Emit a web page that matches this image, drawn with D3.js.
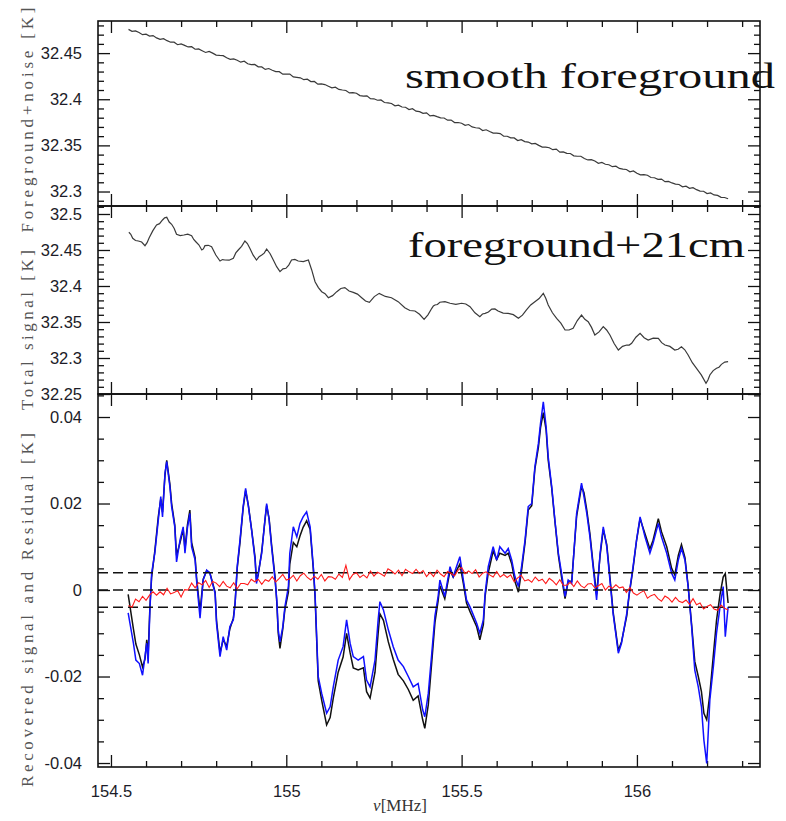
<!DOCTYPE html>
<html><head><meta charset="utf-8">
<script src="https://cdn.jsdelivr.net/npm/d3@7"></script>
<style>body{margin:0;background:#fff} svg{display:block}</style>
</head><body><svg id="c" width="786" height="821"></svg>
<script>
// ---------------- DATA ----------------
// frequency channels (MHz) shared by the foreground and residual series
const channelFreq = [154.55,154.56,154.57,154.58,154.59,154.60,154.61,154.62,154.63,154.64,154.65,154.66,154.67,154.68,154.69,154.70,154.71,154.72,154.73,154.74,154.75,154.76,154.77,154.78,154.79,154.80,154.81,154.82,154.83,154.84,154.85,154.86,154.87,154.88,154.89,154.90,154.91,154.92,154.93,154.94,154.95,154.96,154.97,154.98,154.99,155.00,155.01,155.02,155.03,155.04,155.05,155.06,155.07,155.08,155.09,155.10,155.11,155.12,155.13,155.14,155.15,155.16,155.17,155.18,155.19,155.20,155.21,155.22,155.23,155.24,155.25,155.26,155.27,155.28,155.29,155.30,155.31,155.32,155.33,155.34,155.35,155.36,155.37,155.38,155.39,155.40,155.41,155.42,155.43,155.44,155.45,155.46,155.47,155.48,155.49,155.50,155.51,155.52,155.53,155.54,155.55,155.56,155.57,155.58,155.59,155.60,155.61,155.62,155.63,155.64,155.65,155.66,155.67,155.68,155.69,155.70,155.71,155.72,155.73,155.74,155.75,155.76,155.77,155.78,155.79,155.80,155.81,155.82,155.83,155.84,155.85,155.86,155.87,155.88,155.89,155.90,155.91,155.92,155.93,155.94,155.95,155.96,155.97,155.98,155.99,156.00,156.01,156.02,156.03,156.04,156.05,156.06,156.07,156.08,156.09,156.10,156.11,156.12,156.13,156.14,156.15,156.16,156.17,156.18,156.19,156.20,156.21,156.22,156.23,156.24,156.25,156.26];

// panel 1: smooth foreground + noise (K)
const fgNoise = [32.4757,32.4736,32.4740,32.4723,32.4700,32.4705,32.4685,32.4690,32.4665,32.4649,32.4656,32.4635,32.4618,32.4618,32.4591,32.4600,32.4584,32.4567,32.4570,32.4542,32.4545,32.4526,32.4507,32.4519,32.4500,32.4479,32.4475,32.4472,32.4449,32.4432,32.4438,32.4423,32.4402,32.4412,32.4385,32.4376,32.4377,32.4351,32.4350,32.4323,32.4333,32.4314,32.4299,32.4299,32.4272,32.4273,32.4272,32.4242,32.4237,32.4232,32.4212,32.4217,32.4192,32.4193,32.4163,32.4166,32.4159,32.4141,32.4124,32.4131,32.4106,32.4100,32.4095,32.4068,32.4072,32.4065,32.4040,32.4034,32.4037,32.4006,32.4005,32.3989,32.3992,32.3965,32.3961,32.3954,32.3929,32.3936,32.3916,32.3913,32.3888,32.3898,32.3871,32.3866,32.3847,32.3853,32.3820,32.3825,32.3811,32.3798,32.3797,32.3773,32.3774,32.3747,32.3748,32.3740,32.3717,32.3726,32.3700,32.3691,32.3688,32.3661,32.3669,32.3650,32.3633,32.3633,32.3628,32.3599,32.3599,32.3582,32.3581,32.3552,32.3562,32.3541,32.3536,32.3516,32.3521,32.3500,32.3482,32.3481,32.3474,32.3453,32.3459,32.3426,32.3429,32.3413,32.3412,32.3387,32.3382,32.3382,32.3357,32.3342,32.3346,32.3331,32.3306,32.3315,32.3295,32.3290,32.3269,32.3275,32.3250,32.3243,32.3239,32.3214,32.3223,32.3198,32.3180,32.3183,32.3176,32.3152,32.3149,32.3132,32.3135,32.3107,32.3110,32.3093,32.3081,32.3076,32.3051,32.3058,32.3034,32.3041,32.3020,32.3004,32.3003,32.2978,32.2985,32.2963,32.2958,32.2937,32.2935,32.2922];

// residual (K)
const resResidual = [-0.0036,-0.0040,-0.0021,-0.0027,-0.0015,-0.0024,-0.0012,-0.0004,-0.0012,-0.0004,-0.0011,0.0004,-0.0009,-0.0006,-0.0001,-0.0016,0.0001,0.0000,0.0016,0.0005,0.0017,0.0012,0.0022,0.0006,0.0020,0.0016,0.0008,0.0020,0.0009,0.0005,0.0017,0.0003,0.0015,0.0015,0.0012,0.0025,0.0019,0.0025,0.0013,0.0024,0.0020,0.0031,0.0019,0.0027,0.0036,0.0023,0.0026,0.0034,0.0021,0.0033,0.0039,0.0029,0.0023,0.0032,0.0025,0.0036,0.0021,0.0031,0.0030,0.0025,0.0037,0.0029,0.0057,0.0024,0.0036,0.0040,0.0029,0.0035,0.0028,0.0044,0.0032,0.0041,0.0037,0.0032,0.0049,0.0044,0.0037,0.0046,0.0033,0.0048,0.0042,0.0038,0.0048,0.0038,0.0045,0.0031,0.0041,0.0031,0.0046,0.0037,0.0031,0.0043,0.0038,0.0033,0.0046,0.0052,0.0038,0.0044,0.0038,0.0047,0.0030,0.0039,0.0042,0.0035,0.0030,0.0043,0.0030,0.0036,0.0029,0.0035,0.0019,0.0028,0.0034,0.0021,0.0024,0.0018,0.0030,0.0021,0.0025,0.0015,0.0027,0.0021,0.0012,0.0024,0.0011,0.0011,0.0018,0.0008,0.0021,0.0010,0.0005,0.0014,0.0015,0.0005,0.0010,0.0015,0.0000,0.0009,0.0004,0.0012,0.0005,0.0007,-0.0006,0.0006,-0.0007,-0.0012,-0.0006,-0.0002,-0.0019,-0.0013,-0.0010,-0.0020,-0.0026,-0.0014,-0.0019,-0.0028,-0.0017,-0.0026,-0.0029,-0.0023,-0.0033,-0.0020,-0.0034,-0.0030,-0.0044,-0.0038,-0.0034,-0.0044,-0.0047,-0.0035,-0.0042,-0.0046];

// panel 2: total signal (K)
const totFreq = [154.551,154.5565,154.562,154.570,154.578,154.5875,154.597,154.603,154.609,154.6195,154.630,154.6385,154.647,154.653,154.659,154.666,154.673,154.680,154.687,154.6975,154.708,154.719,154.730,154.736,154.742,154.7505,154.759,154.7635,154.768,154.7775,154.787,154.799,154.811,154.818,154.825,154.837,154.849,154.856,154.863,154.8725,154.882,154.889,154.896,154.9055,154.915,154.9225,154.930,154.937,154.944,154.9535,154.963,154.9725,154.982,154.9905,154.999,155.007,155.015,155.0245,155.034,155.0485,155.063,155.0725,155.082,155.0915,155.101,155.1105,155.120,155.132,155.144,155.1555,155.167,155.179,155.191,155.203,155.215,155.226,155.237,155.251,155.265,155.2825,155.300,155.319,155.338,155.3525,155.367,155.380,155.393,155.404,155.415,155.4195,155.424,155.431,155.438,155.4525,155.467,155.4835,155.500,155.512,155.524,155.538,155.552,155.5595,155.567,155.5765,155.586,155.595,155.604,155.6185,155.633,155.6475,155.662,155.6735,155.685,155.697,155.709,155.721,155.733,155.740,155.747,155.759,155.771,155.783,155.795,155.8065,155.818,155.830,155.842,155.8515,155.861,155.8705,155.880,155.892,155.904,155.9135,155.923,155.935,155.947,155.959,155.971,155.978,155.985,155.997,156.009,156.0205,156.032,156.0465,156.061,156.0705,156.080,156.094,156.108,156.1175,156.127,156.1365,156.146,156.158,156.170,156.1835,156.197,156.2025,156.208,156.2175,156.227,156.234,156.241,156.2505,156.260];
const totSignal = [32.4746,32.4719,32.4662,32.4632,32.4625,32.4611,32.4560,32.4601,32.4670,32.4769,32.4847,32.4866,32.4917,32.4948,32.4954,32.4888,32.4857,32.4803,32.4718,32.4700,32.4708,32.4721,32.4699,32.4646,32.4615,32.4572,32.4500,32.4515,32.4560,32.4565,32.4546,32.4430,32.4347,32.4367,32.4361,32.4358,32.4385,32.4459,32.4500,32.4551,32.4625,32.4589,32.4523,32.4428,32.4361,32.4408,32.4430,32.4456,32.4514,32.4452,32.4361,32.4268,32.4199,32.4239,32.4246,32.4291,32.4361,32.4369,32.4347,32.4338,32.4361,32.4223,32.4060,32.3977,32.3921,32.3894,32.3837,32.3866,32.3921,32.3965,32.3977,32.3930,32.3912,32.3887,32.3837,32.3791,32.3773,32.3853,32.3898,32.3855,32.3837,32.3783,32.3699,32.3660,32.3653,32.3607,32.3537,32.3600,32.3690,32.3723,32.3736,32.3743,32.3774,32.3782,32.3760,32.3746,32.3760,32.3750,32.3713,32.3628,32.3574,32.3611,32.3620,32.3638,32.3680,32.3682,32.3653,32.3624,32.3620,32.3602,32.3551,32.3595,32.3667,32.3737,32.3782,32.3825,32.3898,32.3830,32.3736,32.3628,32.3551,32.3484,32.3389,32.3389,32.3412,32.3520,32.3597,32.3537,32.3504,32.3425,32.3319,32.3362,32.3435,32.3389,32.3319,32.3201,32.3111,32.3162,32.3180,32.3180,32.3204,32.3288,32.3343,32.3282,32.3250,32.3275,32.3273,32.3213,32.3180,32.3161,32.3111,32.3122,32.3157,32.3114,32.3042,32.2935,32.2857,32.2766,32.2649,32.2695,32.2764,32.2825,32.2857,32.2872,32.2912,32.2943,32.2949];

// panel 3: true 21cm signal (black) and recovered signal (blue), K
const sigFreq = [154.549,154.564,154.571,154.581,154.590,154.597,154.602,154.606,154.611,154.616,154.625,154.635,154.642,154.647,154.654,154.659,154.668,154.673,154.682,154.687,154.697,154.706,154.711,154.718,154.725,154.730,154.740,154.744,154.754,154.763,154.773,154.782,154.797,154.801,154.811,154.820,154.830,154.839,154.849,154.854,154.860,154.868,154.877,154.884,154.892,154.901,154.911,154.915,154.920,154.930,154.939,154.944,154.951,154.958,154.968,154.973,154.977,154.982,154.990,154.996,155.006,155.010,155.020,155.030,155.039,155.048,155.058,155.068,155.077,155.082,155.091,155.101,155.115,155.125,155.134,155.148,155.162,155.172,155.182,155.191,155.205,155.220,155.229,155.239,155.253,155.262,155.267,155.277,155.291,155.305,155.319,155.334,155.348,155.362,155.376,155.389,155.395,155.405,155.415,155.424,155.433,155.438,155.452,155.467,155.476,155.495,155.505,155.514,155.524,155.543,155.552,155.562,155.567,155.576,155.590,155.600,155.609,155.624,155.633,155.643,155.652,155.662,155.671,155.681,155.690,155.700,155.709,155.719,155.725,155.733,155.741,155.747,155.757,155.766,155.776,155.785,155.795,155.804,155.814,155.828,155.842,155.849,155.857,155.866,155.875,155.885,155.895,155.904,155.914,155.923,155.932,155.947,155.956,155.971,155.978,155.989,155.999,156.009,156.023,156.037,156.046,156.061,156.070,156.085,156.099,156.108,156.118,156.127,156.137,156.146,156.156,156.165,156.175,156.184,156.191,156.199,156.208,156.218,156.227,156.237,156.246,156.252,156.260];
const sigRecovered = [-0.0053,-0.0123,-0.0162,-0.0170,-0.0197,-0.0154,-0.0123,-0.0170,-0.0046,0.0039,0.0085,0.0162,0.0216,0.0169,0.0270,0.0297,0.0239,0.0193,0.0146,0.0065,0.0116,0.0146,0.0085,0.0143,0.0177,0.0100,0.0069,0.0023,-0.0065,0.0023,0.0046,0.0039,-0.0008,-0.0077,-0.0154,-0.0108,-0.0139,-0.0085,-0.0069,-0.0031,0.0054,0.0116,0.0193,0.0235,0.0193,0.0139,0.0069,0.0015,0.0039,0.0085,0.0162,0.0200,0.0162,0.0100,0.0023,-0.0023,-0.0092,-0.0120,-0.0085,-0.0039,0.0008,0.0085,0.0146,0.0123,0.0154,0.0169,0.0181,0.0146,0.0054,-0.0008,-0.0200,-0.0239,-0.0285,-0.0270,-0.0224,-0.0162,-0.0131,-0.0069,-0.0123,-0.0154,-0.0162,-0.0154,-0.0208,-0.0224,-0.0162,-0.0069,-0.0027,-0.0046,-0.0092,-0.0131,-0.0162,-0.0177,-0.0200,-0.0224,-0.0216,-0.0277,-0.0293,-0.0239,-0.0146,-0.0060,-0.0015,0.0023,-0.0015,0.0054,0.0031,0.0077,0.0023,-0.0023,-0.0039,-0.0077,-0.0100,-0.0069,-0.0008,0.0054,0.0100,0.0069,0.0100,0.0085,0.0096,0.0069,0.0031,0.0008,0.0054,0.0116,0.0193,0.0200,0.0285,0.0339,0.0385,0.0435,0.0378,0.0308,0.0239,0.0162,0.0085,0.0039,-0.0015,0.0023,0.0015,0.0177,0.0247,0.0216,0.0177,0.0123,0.0054,-0.0023,0.0085,0.0146,0.0100,0.0023,-0.0054,-0.0146,-0.0123,-0.0054,-0.0008,0.0054,0.0116,0.0169,0.0123,0.0085,0.0108,0.0154,0.0123,0.0085,0.0039,0.0023,0.0069,0.0096,0.0069,0.0008,-0.0085,-0.0185,-0.0224,-0.0270,-0.0347,-0.0401,-0.0254,-0.0177,-0.0100,-0.0039,0.0008,-0.0108,-0.0039];
const sigTrue = [-0.0010,-0.0090,-0.0125,-0.0150,-0.0178,-0.0160,-0.0115,-0.0150,-0.0040,0.0030,0.0090,0.0170,0.0210,0.0180,0.0265,0.0300,0.0245,0.0200,0.0150,0.0080,0.0110,0.0140,0.0095,0.0150,0.0185,0.0110,0.0075,0.0030,-0.0050,0.0025,0.0045,0.0040,-0.0005,-0.0070,-0.0145,-0.0115,-0.0130,-0.0090,-0.0065,-0.0030,0.0050,0.0110,0.0190,0.0230,0.0195,0.0140,0.0075,0.0020,0.0035,0.0090,0.0160,0.0195,0.0165,0.0105,0.0030,-0.0030,-0.0100,-0.0135,-0.0090,-0.0045,-0.0005,0.0060,0.0110,0.0100,0.0125,0.0145,0.0160,0.0140,0.0050,-0.0015,-0.0210,-0.0255,-0.0312,-0.0295,-0.0250,-0.0190,-0.0155,-0.0100,-0.0145,-0.0180,-0.0185,-0.0180,-0.0235,-0.0250,-0.0190,-0.0100,-0.0055,-0.0070,-0.0120,-0.0160,-0.0195,-0.0210,-0.0230,-0.0255,-0.0245,-0.0300,-0.0320,-0.0265,-0.0165,-0.0075,-0.0025,0.0010,-0.0020,0.0045,0.0030,0.0060,0.0015,-0.0030,-0.0050,-0.0085,-0.0115,-0.0080,-0.0015,0.0040,0.0090,0.0070,0.0085,0.0080,0.0085,0.0060,0.0020,-0.0005,0.0045,0.0110,0.0185,0.0195,0.0280,0.0330,0.0375,0.0410,0.0370,0.0300,0.0235,0.0160,0.0080,0.0030,-0.0020,0.0020,0.0020,0.0170,0.0240,0.0225,0.0185,0.0130,0.0060,-0.0010,0.0080,0.0140,0.0105,0.0030,-0.0050,-0.0140,-0.0120,-0.0060,-0.0010,0.0050,0.0115,0.0165,0.0130,0.0095,0.0115,0.0165,0.0135,0.0100,0.0050,0.0035,0.0080,0.0105,0.0075,0.0010,-0.0080,-0.0165,-0.0200,-0.0235,-0.0285,-0.0300,-0.0240,-0.0150,-0.0070,-0.0010,0.0030,0.0038,-0.0030];

const thresholdLevels = [-0.004, 0, 0.004];

const xTickValues = [154.5, 155, 155.5, 156];
const xTickLabels = ["154.5", "155", "155.5", "156"];
const p1TickValues = [32.3, 32.35, 32.4, 32.45];
const p1TickLabels = ["32.3", "32.35", "32.4", "32.45"];
const p2TickValues = [32.25, 32.3, 32.35, 32.4, 32.45, 32.5];
const p2TickLabels = ["32.25", "32.3", "32.35", "32.4", "32.45", "32.5"];
const p3TickValues = [-0.04, -0.02, 0, 0.02, 0.04];
const p3TickLabels = ["-0.04", "-0.02", "0", "0.02", "0.04"];

// ---------------- LAYOUT ----------------
const L = 98, R = 760;
const svg = d3.select("#c");
const x = d3.scaleLinear().domain([154.463, 156.351]).range([L, R]);

const panels = [
  {top: 21, bottom: 206, domain: [32.2843, 32.4848], ticks: p1TickValues, labels: p1TickLabels, minorStep: 0.01,
   title: "Foreground+noise [K]", titleY: 120, titleLen: 225},
  {top: 206, bottom: 394, domain: [32.25, 32.5111], ticks: p2TickValues, labels: p2TickLabels, minorStep: 0.01,
   title: "Total signal [K]", titleY: 330, titleLen: 160},
  {top: 394, bottom: 767, domain: [-0.04092, 0.04532], ticks: p3TickValues, labels: p3TickLabels, minorStep: 0.005,
   title: "Recovered signal and Residual [K]", titleY: 610, titleLen: 354}
];
panels.forEach(p => { p.y = d3.scaleLinear().domain(p.domain).range([p.bottom, p.top]); });

const xMinor = d3.range(154.5, 156.36, 0.1).filter(v => v >= 154.463 && v <= 156.351 && !xTickValues.some(t => Math.abs(t - v) < 1e-6));

const MAJ = 12, MIN = 6;
function styleAxis(g) {
  g.select(".domain").remove();
  g.selectAll(".tick line").attr("stroke", "#111").attr("stroke-width", 1.3);
  g.selectAll(".tick text").attr("font-family", "'Liberation Sans', Arial, sans-serif").attr("font-size", 16.5).attr("fill", "#1c1c28");
}

panels.forEach((p, pi) => {
  const lo = Math.ceil(p.domain[0] / p.minorStep) * p.minorStep;
  const minor = d3.range(lo, p.domain[1], p.minorStep).map(v => +v.toFixed(4))
    .filter(v => !p.ticks.some(t => Math.abs(t - v) < 1e-7));
  const lab = d3.scaleOrdinal().domain(p.ticks).range(p.labels);
  svg.append("g").attr("transform", `translate(${L},0)`)
    .call(d3.axisLeft(p.y).tickValues(p.ticks).tickSize(-MAJ).tickPadding(16).tickFormat(d => lab(d))).call(styleAxis);
  svg.append("g").attr("transform", `translate(${L},0)`)
    .call(d3.axisLeft(p.y).tickValues(minor).tickSize(-MIN).tickFormat("")).call(styleAxis);
  svg.append("g").attr("transform", `translate(${R},0)`)
    .call(d3.axisRight(p.y).tickValues(p.ticks).tickSize(-MAJ).tickFormat("")).call(styleAxis);
  svg.append("g").attr("transform", `translate(${R},0)`)
    .call(d3.axisRight(p.y).tickValues(minor).tickSize(-MIN).tickFormat("")).call(styleAxis);
  svg.append("g").attr("transform", `translate(0,${p.top})`)
    .call(d3.axisTop(x).tickValues(xTickValues).tickSize(-MAJ).tickFormat("")).call(styleAxis);
  svg.append("g").attr("transform", `translate(0,${p.top})`)
    .call(d3.axisTop(x).tickValues(xMinor).tickSize(-MIN).tickFormat("")).call(styleAxis);
  const xl = d3.scaleOrdinal().domain(xTickValues).range(xTickLabels);
  svg.append("g").attr("transform", `translate(0,${p.bottom})`)
    .call(d3.axisBottom(x).tickValues(xTickValues).tickSize(-MAJ).tickPadding(18)
      .tickFormat(pi === 2 ? (d => xl(d)) : "")).call(styleAxis);
  svg.append("g").attr("transform", `translate(0,${p.bottom})`)
    .call(d3.axisBottom(x).tickValues(xMinor).tickSize(-MIN).tickFormat("")).call(styleAxis);

  svg.append("text")
    .attr("transform", `translate(33,${p.titleY}) rotate(-90)`)
    .attr("text-anchor", "middle")
    .attr("font-family", "'Liberation Serif', 'DejaVu Serif', serif")
    .attr("font-size", 17).attr("fill", "#555")
    .attr("textLength", p.titleLen).attr("lengthAdjust", "spacing")
    .text(p.title);
});

// ---------------- LINES ----------------
const p1 = panels[0], p2 = panels[1], p3 = panels[2];
function mkLine(ys) { return d3.line().x(d => x(d[0])).y(d => ys(d[1])); }

svg.append("path").datum(d3.zip(channelFreq, fgNoise))
  .attr("d", mkLine(p1.y)).attr("fill", "none").attr("stroke", "#3a3a3a").attr("stroke-width", 1.2);
svg.append("path").datum(d3.zip(totFreq, totSignal))
  .attr("d", mkLine(p2.y)).attr("fill", "none").attr("stroke", "#3a3a3a").attr("stroke-width", 1.2);

svg.append("path").datum(d3.zip(sigFreq, sigTrue))
  .attr("d", mkLine(p3.y)).attr("fill", "none").attr("stroke", "#111").attr("stroke-width", 1.5);
svg.append("path").datum(d3.zip(sigFreq, sigRecovered))
  .attr("d", mkLine(p3.y)).attr("fill", "none").attr("stroke", "#1010ff").attr("stroke-width", 1.5);

svg.selectAll("line.thr").data(thresholdLevels).enter().append("line")
  .attr("x1", L).attr("x2", R).attr("y1", d => p3.y(d)).attr("y2", d => p3.y(d))
  .attr("stroke", "#111").attr("stroke-width", 1.6).attr("stroke-dasharray", "10,5");

svg.append("path").datum(d3.zip(channelFreq, resResidual))
  .attr("d", mkLine(p3.y)).attr("fill", "none").attr("stroke", "#ff1a1a").attr("stroke-width", 1.1);

panels.forEach(p => {
  svg.append("rect").attr("x", L).attr("y", p.top).attr("width", R - L).attr("height", p.bottom - p.top)
    .attr("fill", "none").attr("stroke", "#111").attr("stroke-width", 1.6);
});

svg.append("text").attr("x", 405).attr("y", 88)
  .attr("font-family", "'Liberation Serif', serif").attr("font-size", 36).attr("fill", "#111")
  .attr("textLength", 370).attr("lengthAdjust", "spacingAndGlyphs").text("smooth foreground");
svg.append("text").attr("x", 408).attr("y", 257)
  .attr("font-family", "'Liberation Serif', serif").attr("font-size", 36).attr("fill", "#111")
  .attr("textLength", 337).attr("lengthAdjust", "spacingAndGlyphs").text("foreground+21cm");

const xt = svg.append("text").attr("x", 400).attr("y", 811).attr("text-anchor", "middle")
  .attr("font-family", "'Liberation Serif', 'DejaVu Serif', serif").attr("font-size", 17).attr("fill", "#333");
xt.append("tspan").attr("font-style", "italic").text("ν");
xt.append("tspan").text("[MHz]");
</script></body></html>
